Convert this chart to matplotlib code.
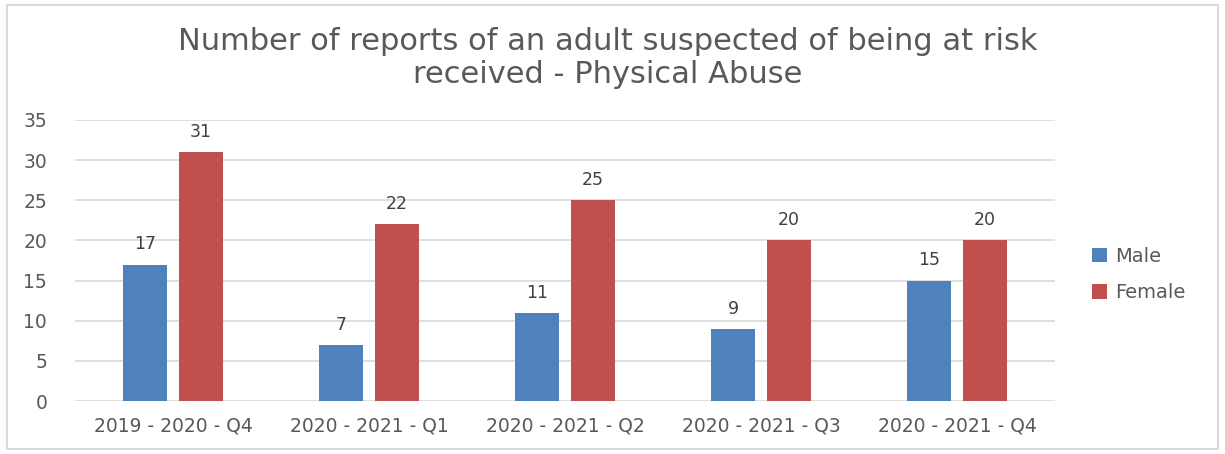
import numpy as np
import matplotlib.pyplot as plt
from matplotlib.patches import Rectangle

categories = ["2019 - 2020 - Q4", "2020 - 2021 - Q1", "2020 - 2021 - Q2",
              "2020 - 2021 - Q3", "2020 - 2021 - Q4"]
male = [17, 7, 11, 9, 15]
female = [31, 22, 25, 20, 20]

BLUE = "#4F81BD"
RED = "#C0504D"
GREY = "#595959"

fig = plt.figure(figsize=(12.25, 4.54), dpi=100)
ax = fig.add_axes([0.0612, 0.1167, 0.80, 0.619])

x = np.arange(len(categories))
w = 0.224
off = 0.143
b1 = ax.bar(x - off, male, w, color=BLUE, label="Male", zorder=3)
b2 = ax.bar(x + off, female, w, color=RED, label="Female", zorder=3)

for bars, vals in ((b1, male), (b2, female)):
    for r, v in zip(bars, vals):
        ax.annotate(str(v), (r.get_x() + r.get_width() / 2, v),
                    xytext=(0, 8), textcoords="offset points",
                    ha="center", va="bottom", fontsize=12.5, color="#404040")

ax.set_xlim(-0.5, len(categories) - 0.5)
ax.set_ylim(0, 35)
ax.set_yticks(range(0, 36, 5))
ax.set_xticks(x)
ax.set_xticklabels(categories)
ax.tick_params(axis="both", length=0, labelsize=13.5, colors=GREY)
ax.tick_params(axis="y", pad=20)
ax.tick_params(axis="x", pad=11)
ax.grid(axis="y", color="#d9d9d9", lw=1.2, zorder=0)
for s in ax.spines.values():
    s.set_visible(False)

fig.text(0.496, 0.872, "Number of reports of an adult suspected of being at risk\nreceived - Physical Abuse",
         ha="center", va="center", fontsize=22, color=GREY, linespacing=1.15)

leg = ax.legend(loc="center left", bbox_to_anchor=(1.02, 0.45), frameon=False,
                fontsize=14, handlelength=0.75, handleheight=0.75,
                labelspacing=0.9, handletextpad=0.45)
for t in leg.get_texts():
    t.set_color(GREY)

fig.patches.append(Rectangle((7 / 1225, 5 / 454), 1211 / 1225, 444 / 454,
                             transform=fig.transFigure, fill=False,
                             edgecolor="#d9d9d9", lw=1.5))

fig.savefig("out.png")
